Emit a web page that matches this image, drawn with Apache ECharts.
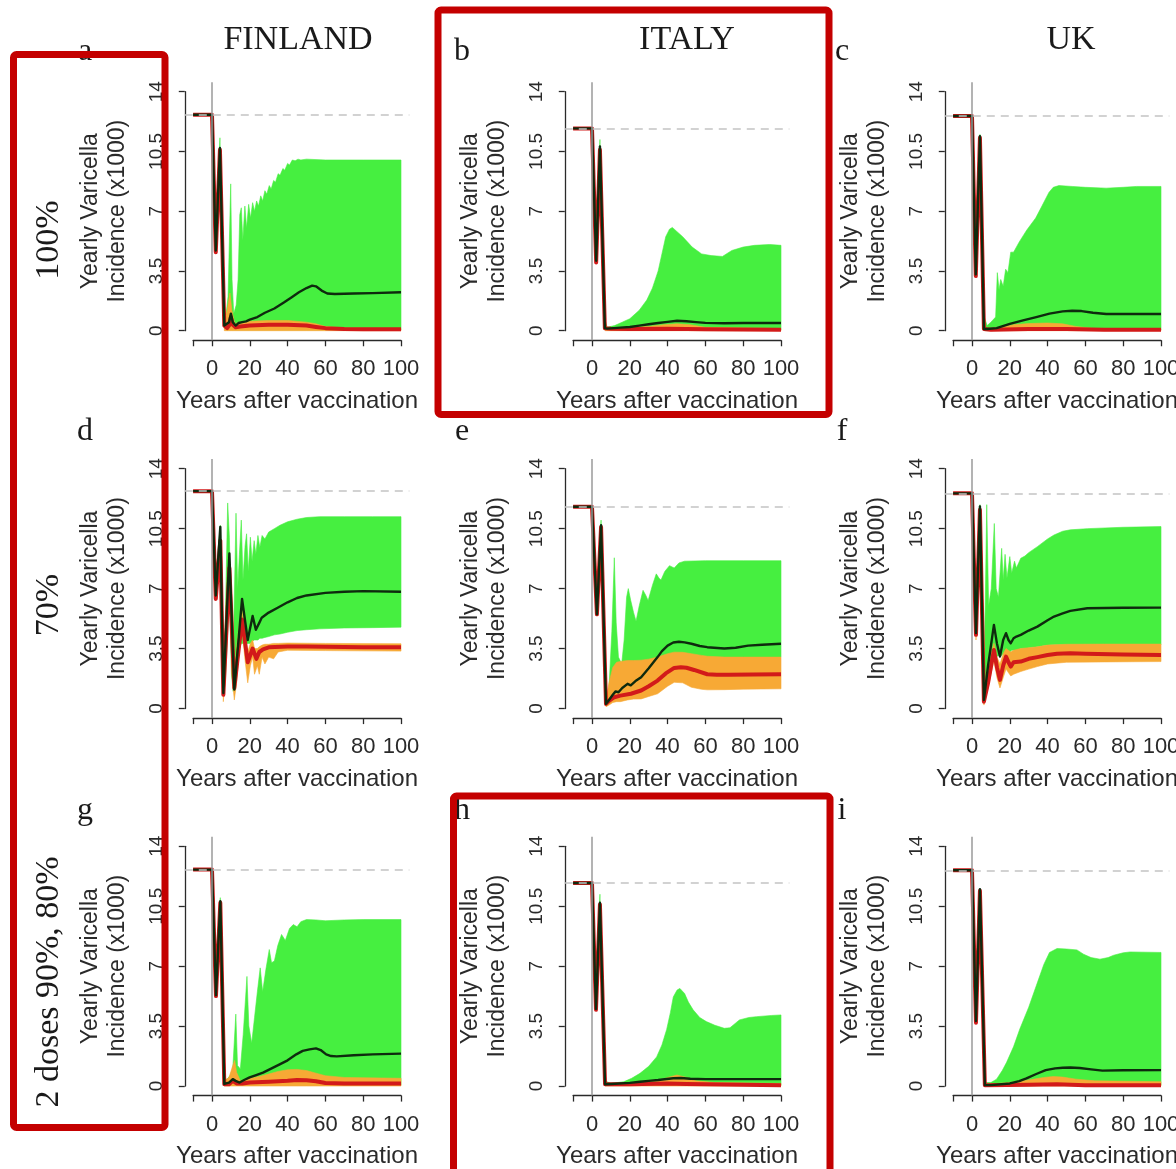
<!DOCTYPE html>
<html>
<head>
<meta charset="utf-8">
<script src="https://cdn.jsdelivr.net/npm/echarts@6/dist/echarts.min.js"></script>
<style>
  html, body { margin: 0; padding: 0; background: #ffffff; }
  #chart { width: 1176px; height: 1169px; }
</style>
</head>
<body>
<div id="chart"></div>
<script>
// ---- Yearly varicella incidence (x1000) after vaccination ----
// Bands are [year, low, high]; lines are [year, value].

const countries = ['FINLAND', 'ITALY', 'UK'];
const scenarios = ['100%', '70%', '2 doses 90%, 80%'];
const panelLetters = ['a', 'b', 'c', 'd', 'e', 'f', 'g', 'h', 'i'];
const xTickYears = [-10, 0, 20, 40, 60, 80, 100];
const xLabelYears = [0, 20, 40, 60, 80, 100];

// pre-vaccination incidence, rows = scenarios, columns = countries
const preLevels = [
  [12.65, 11.85, 12.58],
  [12.69, 11.78, 12.56],
  [12.64, 11.86, 12.60]
];

// ---- 100% coverage ----
const finland100Green = [[3.5,8.8,9.4],[4.2,10.2,11.3],[5,5.5,6.3],[6,0.3,1.5],[7,0.05,0.5],[8.5,0.05,2],[9.9,0.05,8.6],[10.6,0.05,3],[11.5,0.05,1],[12.8,0.05,1.5],[13.8,0.05,3],[14.7,0.05,6.8],[15.5,0.05,7.2],[16.3,0.05,5.3],[17.4,0.05,7.3],[18.3,0.05,6.0],[19.4,0.05,7.4],[20.4,0.05,6.6],[21.5,0.05,7.5],[22.5,0.05,7.0],[23.6,0.05,7.6],[24.6,0.05,7.3],[25.8,0.05,7.9],[26.8,0.05,7.6],[28,0.05,8.2],[29,0.05,8.0],[30.3,0.05,8.5],[31.3,0.05,8.3],[32.6,0.05,8.8],[33.6,0.05,8.7],[35,0.05,9.2],[36,0.05,9.1],[37.5,0.05,9.5],[38.5,0.05,9.4],[40,0.05,9.8],[41,0.05,9.7],[42.5,0.05,10.0],[44,0.05,9.95],[45.5,0.05,10.05],[47,0.05,10.0],[50,0.05,10.05],[60,0.05,10.0],[80,0.05,10.0],[100,0.05,10.0]];
const finland100Orange = [[6.5,0,0.4],[8,0,1.2],[9.5,0,2.2],[10.5,0,1.2],[12,0,0.4],[15,0,0.5],[20,0,0.55],[30,0,0.6],[40,0,0.6],[50,0,0.5],[55,0,0.4],[60,0,0.25],[70,0,0.15],[100,0,0.12]];
const finland100Red = [[2,4.6],[4.2,10.6],[6.5,0.3],[8,0.15],[9,0.3],[10,0.8],[11,0.35],[12.5,0.2],[15,0.25],[20,0.3],[30,0.35],[40,0.35],[50,0.3],[55,0.22],[60,0.15],[70,0.1],[80,0.08],[100,0.08]];
const finland100Black = [[2,4.7],[4.2,10.7],[6.5,0.3],[7.5,0.2],[9,0.5],[10,1.0],[11,0.5],[12.5,0.3],[14,0.45],[16,0.5],[18,0.55],[20,0.65],[24,0.8],[28,1.05],[33,1.3],[38,1.65],[42,1.95],[46,2.25],[50,2.5],[53,2.64],[55,2.6],[58,2.35],[61,2.18],[65,2.15],[75,2.18],[85,2.2],[100,2.25]];

const italy100Green = [[3.5,8.5,9],[4.2,10.3,11.2],[5,5.5,6.3],[6.5,0.3,0.8],[8,0.05,0.2],[12,0.05,0.3],[16,0.05,0.5],[20,0.05,0.7],[25,0.05,1.2],[29,0.05,1.8],[32,0.05,2.5],[35,0.05,3.5],[37,0.05,4.5],[39,0.05,5.5],[41,0.05,5.95],[42.5,0.05,6.05],[45,0.05,5.8],[48,0.05,5.5],[53,0.05,4.9],[58,0.05,4.5],[63,0.05,4.4],[69,0.05,4.35],[74,0.05,4.7],[80,0.05,4.9],[86,0.05,5.0],[94,0.05,5.05],[100,0.05,5.0]];
const italy100Orange = [[7,0,0.15],[20,0,0.2],[30,0,0.25],[38,0,0.35],[45,0,0.4],[52,0,0.35],[60,0,0.2],[100,0,0.12]];
const italy100Red = [[2.2,4.0],[4.2,10.6],[6.8,0.15],[10,0.12],[20,0.1],[40,0.12],[60,0.08],[100,0.06]];
const italy100Black = [[2.2,4.1],[4.2,10.8],[6.8,0.15],[8,0.12],[15,0.18],[20,0.22],[25,0.3],[30,0.38],[35,0.45],[40,0.52],[45,0.58],[50,0.55],[55,0.5],[60,0.46],[70,0.44],[80,0.45],[100,0.45]];

const uk100Green = [[3.5,9.3,9.8],[4.2,10.8,11.5],[5,5.8,6.5],[6.5,0.3,0.8],[8,0.05,0.3],[10,0.05,0.5],[12.5,0.05,0.8],[13.4,0.05,3.4],[14.3,0.05,2.4],[15.2,0.05,3.0],[16.5,0.05,2.6],[17.8,0.05,3.6],[19,0.05,3.4],[20.5,0.05,4.6],[22,0.05,4.6],[25,0.05,5.2],[29,0.05,5.9],[33.7,0.05,6.6],[37,0.05,7.3],[40.7,0.05,8.1],[43,0.05,8.4],[46,0.05,8.5],[53,0.05,8.45],[60,0.05,8.4],[71,0.05,8.35],[80,0.05,8.4],[87,0.05,8.45],[100,0.05,8.45]];
const uk100Orange = [[7,0,0.1],[15,0,0.2],[22,0,0.35],[30,0,0.42],[40,0,0.45],[48,0,0.4],[55,0,0.25],[65,0,0.12],[100,0,0.1]];
const uk100Red = [[2,3.2],[4.2,11.3],[6.3,0.1],[10,0.05],[30,0.1],[50,0.1],[70,0.05],[100,0.05]];
const uk100Black = [[2,3.3],[4.2,11.4],[6.3,0.1],[8,0.1],[13,0.15],[20,0.4],[27,0.6],[34,0.8],[41,1.0],[48,1.13],[53,1.17],[58,1.15],[64,1.05],[71,0.98],[85,0.98],[100,0.98]];

// ---- 70% coverage ----
const finland70Green = [[3.5,9,9.5],[4.4,10,10.7],[5.2,3,4],[6,0.8,1.5],[7,1.5,5],[8.3,4.5,12.0],[9.2,7,10],[10.3,2,4],[11.2,1,3],[12.7,2.5,11.4],[13.6,3,7],[14.5,3.5,9],[15.5,3.8,11.0],[16.4,3.8,7.5],[17.5,3.8,9.5],[18.3,3.8,10.2],[19.2,3.8,8.0],[20.3,3.8,10.0],[21.2,3.9,8.6],[22.3,4.0,9.8],[23.2,4.0,9.0],[24.3,4.0,10.1],[25.3,4.1,9.4],[26.5,4.1,10.1],[28,4.15,9.9],[30,4.2,10.3],[33,4.3,10.5],[36,4.35,10.7],[40,4.45,10.9],[45,4.55,11.05],[50,4.6,11.15],[57,4.65,11.2],[70,4.7,11.2],[85,4.72,11.2],[100,4.75,11.2]];
const finland70Orange = [[4.4,9.3,10.2],[6,0.4,1.3],[7.5,3,5.5],[9.2,7.5,8.8],[10.5,2,3.5],[11.8,0.5,1.8],[13,1.5,3.5],[14.5,3.5,5.0],[15.9,4.6,5.7],[17.5,2.8,4.2],[18.9,1.5,3.3],[20.3,2.5,3.8],[21.5,3.0,4.0],[22.5,2.0,3.5],[24,2.5,3.5],[25,2.0,3.6],[26.5,3.0,3.7],[28,2.6,3.75],[30,3.0,3.75],[32.6,2.9,3.8],[35,3.3,3.8],[40,3.4,3.82],[60,3.38,3.8],[100,3.35,3.78]];
const finland70Red = [[2,6.4],[4.4,9.8],[6,0.8],[9.2,8.2],[11.8,1.2],[15.9,5.2],[18.9,2.7],[21.5,3.5],[23.5,2.9],[25,3.3],[27,3.45],[30,3.57],[40,3.62],[50,3.62],[60,3.6],[80,3.58],[100,3.57]];
const finland70Black = [[2,6.6],[4.4,10.6],[6,0.9],[9.2,9.05],[11.8,1.1],[15.9,6.4],[18.9,4.0],[21.5,5.4],[23.2,4.6],[25,5.0],[26.3,5.3],[30,5.6],[35,5.9],[40,6.2],[45,6.45],[50,6.6],[60,6.75],[70,6.82],[80,6.85],[100,6.82]];

const italy70Green = [[3.5,8,8.5],[4.8,10,11.0],[6,4,4.5],[7.4,0.2,0.6],[9,0.3,1.2],[10.5,0.5,4.5],[11.8,0.6,8.8],[12.8,0.7,5],[14,0.8,3],[15.7,0.9,2.6],[17,1.0,4],[18.3,1.0,6.5],[19.2,1.1,7.0],[20.5,1.1,6.3],[22,1.2,5.6],[23.3,1.2,5.1],[25,1.3,6.0],[27,1.4,6.9],[28.5,1.5,6.6],[29.7,1.6,6.3],[32,1.8,7.2],[34,2.0,7.86],[35.5,2.1,7.6],[36.5,2.2,7.5],[38.5,2.4,8.0],[41,2.6,8.34],[43.5,2.8,8.2],[46,2.9,8.5],[49,3.0,8.6],[60,3.0,8.63],[80,3.0,8.63],[100,3.0,8.63]];
const italy70Orange = [[7.4,0.1,0.5],[9,0.2,1.5],[11,0.35,2.4],[13,0.4,2.7],[15,0.4,2.75],[18.8,0.5,2.8],[22,0.55,2.8],[26,0.56,2.82],[30,0.7,2.88],[34.7,0.86,3.0],[40,1.3,3.2],[43.5,1.53,3.29],[48,1.5,3.28],[52.6,1.24,3.2],[58,1.12,3.1],[61,1.09,3.05],[70,1.1,3.0],[80,1.13,3.0],[100,1.15,3.0]];
const italy70Red = [[2.6,5.5],[4.8,10.6],[7.4,0.27],[9,0.45],[11.8,0.66],[15,0.75],[20.6,0.86],[26,1.05],[30,1.3],[34.7,1.63],[39,2.05],[43.5,2.37],[47,2.41],[50,2.38],[54,2.25],[61,2.0],[66,1.97],[72,1.97],[85,1.98],[100,2.0]];
const italy70Black = [[2.6,5.5],[4.8,10.7],[7.4,0.27],[9,0.5],[11,0.8],[12.5,1.0],[14,0.95],[16,1.2],[18.8,1.44],[20.5,1.35],[23,1.6],[26,1.83],[30,2.35],[34.7,3.0],[37,3.35],[40,3.67],[43,3.85],[46,3.9],[49,3.86],[52.6,3.78],[57,3.65],[61,3.58],[70,3.5],[76,3.55],[82.6,3.67],[90,3.72],[100,3.78]];

const uk70Green = [[3.5,9.5,10],[4.2,11.3,11.9],[5.3,5,6],[6.3,0.5,1.5],[7,1,6],[7.8,1.5,11.9],[8.8,2,6],[10.2,2.5,7],[11.8,3,10.8],[12.8,3,7],[14,3.1,6.5],[15.7,3.1,9.35],[16.5,3.2,7.5],[17.5,3.2,9.0],[18.5,3.3,7.6],[20,3.3,8.87],[21,3.4,7.9],[22.5,3.4,8.6],[23.5,3.4,8.2],[25.8,3.5,8.77],[28,3.5,8.9],[30,3.55,9.1],[34.6,3.6,9.45],[40,3.7,9.9],[43.4,3.72,10.13],[48,3.72,10.35],[52,3.72,10.43],[61,3.72,10.5],[80,3.72,10.58],[100,3.72,10.62]];
const uk70Orange = [[2.1,4,4.6],[4.2,11,11.6],[6.3,0.2,0.8],[8.5,1.2,2.5],[11.6,2.8,3.8],[13.2,1.8,3.0],[14.8,1.2,2.6],[16.5,1.8,3.2],[18,2.3,3.5],[20.5,1.9,3.3],[22,2.0,3.4],[25.8,2.16,3.5],[30,2.3,3.55],[34.6,2.45,3.6],[40,2.6,3.7],[50,2.7,3.75],[70,2.72,3.76],[100,2.74,3.76]];
const uk70Red = [[2.1,4.3],[4.2,11.6],[6.3,0.4],[8.5,1.5],[11.6,3.42],[13.2,2.4],[14.8,1.67],[16.5,2.5],[18,3.03],[19.3,2.7],[20.5,2.45],[22,2.7],[25.8,2.74],[30,2.9],[34.6,3.0],[40,3.12],[45,3.2],[52,3.23],[60,3.2],[80,3.15],[100,3.13]];
const uk70Black = [[2.1,4.4],[4.2,11.8],[6.3,0.5],[8.5,2.5],[11.6,4.88],[13.2,3.8],[14.8,3.03],[16.5,4.0],[18,4.4],[19.3,4.0],[20.5,3.81],[22,4.1],[23.5,4.2],[25.8,4.3],[30,4.55],[34.6,4.78],[40,5.15],[43.4,5.37],[48,5.55],[52,5.7],[61,5.85],[80,5.88],[100,5.89]];

// ---- 2 doses (90%, 80%) ----
const finland2dGreen = [[3.5,9,9.5],[4.4,10.3,11.0],[5.3,5,5.5],[6.5,0.1,0.4],[8,0.05,0.4],[9.5,0.05,0.6],[11,0.05,1.0],[12.6,0.05,4.2],[13.5,0.05,1.2],[15,0.05,1.0],[16.5,0.05,3.0],[18.5,0.05,6.4],[19.5,0.05,3.5],[21,0.05,2.5],[22.5,0.05,4.0],[24,0.05,5.5],[25.5,0.05,6.9],[26.8,0.05,5.5],[28.5,0.05,6.8],[30.3,0.05,7.97],[31.5,0.05,7.2],[33,0.05,7.3],[34.8,0.05,8.2],[36.8,0.05,8.85],[38.8,0.05,8.5],[41,0.05,9.2],[43,0.05,9.43],[45,0.05,9.3],[47,0.05,9.6],[50,0.05,9.72],[55,0.05,9.7],[60,0.05,9.65],[70,0.05,9.7],[80,0.05,9.72],[100,0.05,9.72]];
const finland2dOrange = [[6.5,0,0.3],[9,0,0.5],[11,0,1.2],[12,0,1.5],[13,0,0.8],[15,0,0.3],[20,0,0.45],[25,0,0.55],[30,0,0.7],[35,0,0.85],[40,0,0.95],[45,0,0.97],[50,0,0.9],[55,0,0.75],[60,0,0.6],[70,0,0.5],[100,0,0.45]];
const finland2dRed = [[2.1,5.25],[4.4,10.7],[6.5,0.1],[9,0.1],[11,0.3],[13,0.15],[16,0.15],[20,0.2],[30,0.25],[40,0.3],[45,0.35],[50,0.33],[55,0.28],[60,0.18],[70,0.15],[100,0.14]];
const finland2dBlack = [[2.1,5.3],[4.4,10.8],[6.5,0.12],[9,0.2],[11,0.4],[12.5,0.3],[14.6,0.2],[17,0.35],[19.9,0.5],[23,0.62],[27,0.78],[31,1.0],[35.8,1.26],[40,1.5],[44.6,1.85],[48,2.05],[51.6,2.14],[55,2.2],[57.5,2.1],[60.4,1.85],[63,1.75],[66,1.73],[75,1.8],[85,1.85],[100,1.89]];

const italy2dGreen = [[3.5,9,9.5],[4.2,10.3,11.2],[5.2,5,5.5],[6.9,0.1,0.3],[10,0.05,0.15],[16.8,0.05,0.25],[21,0.05,0.45],[25.4,0.05,0.74],[30,0.05,1.15],[34.2,0.05,1.7],[37,0.05,2.4],[39.5,0.05,3.3],[41.5,0.05,4.3],[43,0.05,5.2],[45,0.05,5.6],[46.5,0.05,5.7],[49,0.05,5.4],[51,0.05,4.9],[53.5,0.05,4.45],[57,0.05,4.0],[60.5,0.05,3.76],[65,0.05,3.55],[70,0.05,3.37],[73,0.05,3.4],[78,0.05,3.86],[83,0.05,4.0],[87,0.05,4.05],[95,0.05,4.12],[100,0.05,4.15]];
const italy2dOrange = [[6.9,0,0.1],[20,0,0.15],[35,0,0.3],[40,0,0.5],[45,0,0.64],[50,0,0.5],[55,0,0.3],[65,0,0.2],[100,0,0.15]];
const italy2dRed = [[2.1,4.45],[4.2,10.6],[6.9,0.1],[20,0.1],[40,0.15],[50,0.12],[100,0.05]];
const italy2dBlack = [[2.1,4.5],[4.2,10.7],[6.9,0.1],[10,0.12],[20,0.18],[25.4,0.25],[30,0.3],[35,0.35],[43,0.45],[47,0.47],[52,0.42],[60,0.4],[100,0.4]];

const uk2dGreen = [[3.5,9.5,10],[4.2,10.8,11.4],[5.2,5,5.5],[6.8,0.05,0.2],[10,0.05,0.2],[13,0.05,0.4],[16,0.05,0.9],[18.3,0.05,1.38],[22,0.05,2.3],[25.3,0.05,3.33],[30,0.05,4.6],[34,0.05,5.85],[38,0.05,7.1],[41,0.05,7.8],[45,0.05,8.03],[50,0.05,8.0],[55.5,0.05,7.95],[59,0.05,7.7],[63,0.05,7.5],[67.7,0.05,7.41],[72,0.05,7.5],[75,0.05,7.64],[80,0.05,7.78],[83.6,0.05,7.83],[100,0.05,7.8]];
const uk2dOrange = [[6.8,0,0.1],[20,0,0.2],[30,0,0.35],[38,0,0.5],[43,0,0.55],[48,0,0.52],[55,0,0.4],[65,0,0.3],[100,0,0.25]];
const uk2dRed = [[2.1,3.7],[4.2,11.4],[6.8,0.05],[30,0.08],[45,0.1],[60,0.05],[100,0.05]];
const uk2dBlack = [[2.1,3.8],[4.2,11.5],[6.8,0.05],[10,0.05],[20,0.15],[25,0.28],[28.8,0.44],[34,0.7],[39,0.93],[44,1.03],[48,1.07],[52,1.08],[57,1.05],[63,0.97],[69,0.9],[80,0.92],[100,0.93]];

// panels in reading order: rows = scenarios, columns = countries
const panelData = [
  [finland100Green, finland100Orange, finland100Red, finland100Black],
  [italy100Green, italy100Orange, italy100Red, italy100Black],
  [uk100Green, uk100Orange, uk100Red, uk100Black],
  [finland70Green, finland70Orange, finland70Red, finland70Black],
  [italy70Green, italy70Orange, italy70Red, italy70Black],
  [uk70Green, uk70Orange, uk70Red, uk70Black],
  [finland2dGreen, finland2dOrange, finland2dRed, finland2dBlack],
  [italy2dGreen, italy2dOrange, italy2dRed, italy2dBlack],
  [uk2dGreen, uk2dOrange, uk2dRed, uk2dBlack]
];

// ---- layout ----
const SANS = "'Liberation Sans', Arial, Helvetica, sans-serif";
const SERIF = "'Liberation Serif', 'Times New Roman', Times, serif";
const INK = '#2a2a2a';
const GREEN = '#46ef40';
const ORANGE = '#f7a935';
const RED = '#d21a1a';
const DARK = '#0e2a0e';

const colYear0 = [212, 592, 972];          // pixel column of year 0
const rowTop14 = [91.7, 468.7, 846.3];     // pixel row of value 14
const rowBase0 = [330.7, 708.5, 1086];     // pixel row of value 0
const pxPerYear = 1.89;
const X_MIN = -14.4, X_MAX = 104.4, Y_MIN = -0.56, Y_MAX = 14.56;

const grids = [], xAxes = [], yAxes = [], series = [];

function bandSeries(rows, color, axisIdx, extra) {
  return Object.assign({
    type: 'custom',
    xAxisIndex: axisIdx, yAxisIndex: axisIdx,
    data: rows,
    encode: { x: 0, y: [1, 2] },
    silent: true,
    clip: true,
    renderItem: function (params, api) {
      if (params.dataIndex !== 0) return null;
      const upper = rows.map(r => api.coord([r[0], r[2]]));
      const lower = rows.slice().reverse().map(r => api.coord([r[0], r[1]]));
      return {
        type: 'polygon',
        shape: { points: upper.concat(lower) },
        style: { fill: color, stroke: color, lineWidth: 0.6 }
      };
    }
  }, extra || {});
}

for (let r = 0; r < 3; r++) {
  for (let c = 0; c < 3; c++) {
    const p = r * 3 + c;
    const x0 = colYear0[c];
    const sy = (rowBase0[r] - rowTop14[r]) / 14;
    const left = x0 + X_MIN * pxPerYear;
    const width = (X_MAX - X_MIN) * pxPerYear;
    const top = rowTop14[r] - (Y_MAX - 14) * sy;
    const height = (Y_MAX - Y_MIN) * sy;
    const base = grids.length;
    const pre = preLevels[r][c];
    const [green, orange, red, black] = panelData[p];

    // plotting region
    grids.push({ left, top, width, height, containLabel: false, outerBoundsMode: 'none' });
    xAxes.push({ gridIndex: base, type: 'value', min: X_MIN, max: X_MAX, show: false });
    yAxes.push({ gridIndex: base, type: 'value', min: Y_MIN, max: Y_MAX, show: false });

    // x axis, drawn from -10 to 100 below the region
    grids.push({ left: x0 - 10 * pxPerYear, top, width: 110 * pxPerYear, height, containLabel: false, outerBoundsMode: 'none' });
    xAxes.push({
      gridIndex: base + 1, type: 'value', min: -10, max: 100, position: 'bottom', offset: 6,
      axisLine: { show: true, lineStyle: { color: INK, width: 1.3 } },
      axisTick: { show: true, length: 6, customValues: xTickYears, lineStyle: { color: INK, width: 1.3 } },
      axisLabel: { customValues: xLabelYears, fontSize: 22, margin: 12, color: INK, fontFamily: SANS },
      splitLine: { show: false },
      name: 'Years after vaccination', nameLocation: 'middle', nameGap: 43,
      nameTextStyle: { fontSize: 24, color: INK, fontFamily: SANS }
    });
    yAxes.push({ gridIndex: base + 1, type: 'value', min: 0, max: 1, show: false });

    // y axis, drawn from 0 to 14 left of the region
    grids.push({ left, top: rowTop14[r], width, height: 14 * sy, containLabel: false, outerBoundsMode: 'none' });
    xAxes.push({ gridIndex: base + 2, type: 'value', min: 0, max: 1, show: false });
    yAxes.push({
      gridIndex: base + 2, type: 'value', min: 0, max: 14, interval: 3.5, position: 'left', offset: 4,
      axisLine: { show: true, lineStyle: { color: INK, width: 1.3 } },
      axisTick: { show: true, length: 6, lineStyle: { color: INK, width: 1.3 } },
      axisLabel: { rotate: 90, fontSize: 19, margin: 15, color: INK, fontFamily: SANS },
      splitLine: { show: false },
      name: 'Yearly Varicella\nIncidence (x1000)', nameLocation: 'middle', nameRotate: 90, nameGap: 50,
      nameTextStyle: { fontSize: 23, lineHeight: 27, color: INK, fontFamily: SANS, align: 'center' }
    });

    series.push(bandSeries(green, GREEN, base, {
      markLine: {
        silent: true, symbol: ['none', 'none'], label: { show: false },
        data: [
          { yAxis: pre, lineStyle: { type: [8, 6], color: '#c4c4c4', width: 1.6 } },
          { xAxis: 0, lineStyle: { type: 'solid', color: '#9a9a9a', width: 1.5 } }
        ]
      }
    }));
    series.push(bandSeries(orange, ORANGE, base));
    series.push({
      type: 'line', xAxisIndex: base, yAxisIndex: base, symbol: 'none', silent: true, clip: true,
      data: [[-10, pre], [0, pre]].concat(red),
      lineStyle: { color: RED, width: 4, join: 'round' }
    });
    series.push({
      type: 'line', xAxisIndex: base, yAxisIndex: base, symbol: 'none', silent: true, clip: true,
      data: [[-10, pre], [0, pre]].concat(black),
      lineStyle: { color: DARK, width: 2.4, join: 'round' }
    });
  }
}

// ---- titles, scenario labels, panel letters, highlight boxes ----
const graphics = [];
const titleX = [298, 687, 1071];
countries.forEach((name, i) => {
  graphics.push({ type: 'text', x: titleX[i], y: 40, z: 50,
    style: { text: name, font: '34px ' + SERIF, fill: '#1a1a1a', align: 'center', verticalAlign: 'middle', textAlign: 'center', textVerticalAlign: 'middle' } });
});
const scenarioY = [240, 605, 982];
scenarios.forEach((name, i) => {
  graphics.push({ type: 'text', x: 49, y: scenarioY[i], rotation: Math.PI / 2, z: 50,
    style: { text: name, font: '34px ' + SERIF, fill: '#1a1a1a', align: 'center', verticalAlign: 'middle', textAlign: 'center', textVerticalAlign: 'middle' } });
});
const letterX = [85, 462, 842];
const letterY = [52, 432, 811];
panelLetters.forEach((l, i) => {
  graphics.push({ type: 'text', x: letterX[i % 3], y: letterY[Math.floor(i / 3)], z: 50,
    style: { text: l, font: '32px ' + SERIF, fill: '#1a1a1a', align: 'center', verticalAlign: 'middle', textAlign: 'center', textVerticalAlign: 'middle' } });
});
const boxStyle = { fill: 'none', stroke: '#c40000', lineWidth: 7 };
[
  { x: 13.5, y: 54.5, width: 151.5, height: 1073 },
  { x: 438, y: 10, width: 391, height: 404.5 },
  { x: 453.5, y: 796, width: 376.5, height: 420 }
].forEach(b => {
  graphics.push({ type: 'rect', z: 100, shape: Object.assign({ r: 3 }, b), style: boxStyle });
});

const chart = echarts.init(document.getElementById('chart'), null, { renderer: 'canvas' });
chart.setOption({
  animation: false,
  backgroundColor: '#ffffff',
  grid: grids,
  xAxis: xAxes,
  yAxis: yAxes,
  series: series,
  graphic: { elements: graphics }
});
</script>
</body>
</html>
